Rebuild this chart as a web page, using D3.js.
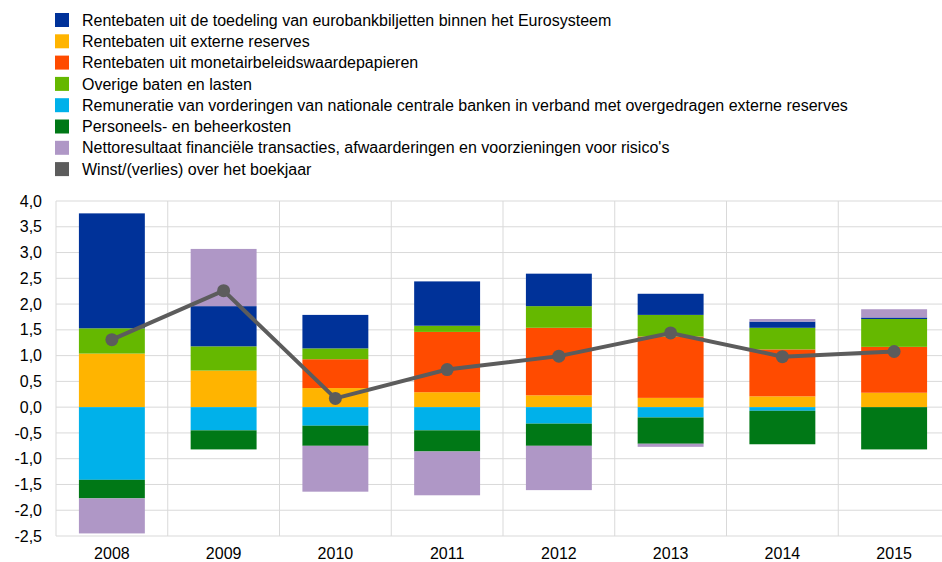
<!DOCTYPE html>
<html>
<head>
<meta charset="utf-8">
<script src="https://cdn.jsdelivr.net/npm/d3@7"></script>
<style>
    body { margin: 0; background: #fff; }
    svg { display: block; font-family: "Liberation Sans", Arial, sans-serif; }
</style>
</head>
<body>
<div id="chart"></div>
<script>
// Data, EUR billion
const years = ['2008', '2009', '2010', '2011', '2012', '2013', '2014', '2015'];
const eurobankbiljetten = [2.23, 0.78, 0.65, 0.86, 0.63, 0.41, 0.12, 0.03];
const externeReserves = [1.04, 0.71, 0.37, 0.29, 0.23, 0.18, 0.21, 0.28];
const monetairPapieren = [0, 0, 0.56, 1.17, 1.31, 1.19, 0.91, 0.89];
const overigeBaten = [0.49, 0.47, 0.21, 0.12, 0.42, 0.42, 0.42, 0.54];
const remuneratie = [-1.41, -0.45, -0.36, -0.45, -0.32, -0.20, -0.07, 0];
const personeelskosten = [-0.36, -0.37, -0.39, -0.41, -0.43, -0.51, -0.65, -0.82];
const nettoresultaat = [-0.68, 1.11, -0.89, -0.85, -0.86, -0.06, 0.05, 0.16];
const winst = [1.31, 2.26, 0.17, 0.73, 0.99, 1.44, 0.98, 1.08];
const yTicks = [-2.5, -2, -1.5, -1, -0.5, 0, 0.5, 1, 1.5, 2, 2.5, 3, 3.5, 4];

// Legend entries in display order
const legendItems = [
    { label: 'Rentebaten uit de toedeling van eurobankbiljetten binnen het Eurosysteem', color: '#003299' },
    { label: 'Rentebaten uit externe reserves', color: '#FFB400' },
    { label: 'Rentebaten uit monetairbeleidswaardepapieren', color: '#FF4B00' },
    { label: 'Overige baten en lasten', color: '#65B800' },
    { label: 'Remuneratie van vorderingen van nationale centrale banken in verband met overgedragen externe reserves', color: '#00B1EA' },
    { label: 'Personeels- en beheerkosten', color: '#007816' },
    { label: "Nettoresultaat financiële transacties, afwaarderingen en voorzieningen voor risico's", color: '#AF97C6' },
    { label: 'Winst/(verlies) over het boekjaar', color: '#5C5C5C' }
];

// Stacking order (bottom-up for positives, top-down for negatives)
const seriesDefs = [
    { key: 'extern', values: externeReserves, color: '#FFB400' },
    { key: 'monetair', values: monetairPapieren, color: '#FF4B00' },
    { key: 'overige', values: overigeBaten, color: '#65B800' },
    { key: 'eurobank', values: eurobankbiljetten, color: '#003299' },
    { key: 'remuneratie', values: remuneratie, color: '#00B1EA' },
    { key: 'personeel', values: personeelskosten, color: '#007816' },
    { key: 'netto', values: nettoresultaat, color: '#AF97C6' }
];

function drawChart() {
    const width = 942, height = 562;
    const plot = { left: 56, right: 950, top: 201, bottom: 536 };

    const svg = d3.select('#chart').append('svg')
        .attr('width', width)
        .attr('height', height)
        .style('overflow', 'hidden');

    const x = d3.scaleBand()
        .domain(years)
        .range([plot.left, plot.right])
        .paddingInner(0.41)
        .paddingOuter(0.205);

    const xGrid = d3.scaleBand().domain(years).range([plot.left, plot.right]);

    const y = d3.scaleLinear()
        .domain([-2.5, 4])
        .range([plot.bottom, plot.top]);

    // gridlines
    svg.append('g')
        .selectAll('line')
        .data(yTicks)
        .join('line')
        .attr('x1', plot.left)
        .attr('x2', plot.right)
        .attr('y1', d => y(d))
        .attr('y2', d => y(d))
        .attr('stroke', '#d9d9d9')
        .attr('stroke-width', 1);

    svg.append('g')
        .selectAll('line')
        .data(years.concat(['end']))
        .join('line')
        .attr('x1', d => d === 'end' ? plot.right : xGrid(d))
        .attr('x2', d => d === 'end' ? plot.right : xGrid(d))
        .attr('y1', plot.top)
        .attr('y2', plot.bottom)
        .attr('stroke', '#d9d9d9')
        .attr('stroke-width', 1);

    // stacked bars
    const table = years.map((yr, i) => {
        const row = { year: yr };
        seriesDefs.forEach(s => { row[s.key] = s.values[i]; });
        return row;
    });

    const stacked = d3.stack()
        .keys(seriesDefs.map(s => s.key))
        .order(d3.stackOrderNone)
        .offset(d3.stackOffsetDiverging)(table);

    svg.append('g')
        .selectAll('g')
        .data(stacked)
        .join('g')
        .attr('fill', (d, i) => seriesDefs[i].color)
        .selectAll('rect')
        .data(d => d)
        .join('rect')
        .attr('x', d => x(d.data.year))
        .attr('width', x.bandwidth())
        .attr('y', d => y(Math.max(d[0], d[1])))
        .attr('height', d => Math.abs(y(d[0]) - y(d[1])));

    // profit line
    const line = d3.line()
        .x((d, i) => x(years[i]) + x.bandwidth() / 2)
        .y(d => y(d));

    svg.append('path')
        .datum(winst)
        .attr('fill', 'none')
        .attr('stroke', '#5C5C5C')
        .attr('stroke-width', 4)
        .attr('d', line);

    svg.append('g')
        .selectAll('circle')
        .data(winst)
        .join('circle')
        .attr('cx', (d, i) => x(years[i]) + x.bandwidth() / 2)
        .attr('cy', d => y(d))
        .attr('r', 6.5)
        .attr('fill', '#5C5C5C');

    // y axis labels
    svg.append('g')
        .selectAll('text')
        .data(yTicks)
        .join('text')
        .attr('x', 42)
        .attr('y', d => y(d))
        .attr('dy', '0.35em')
        .attr('text-anchor', 'end')
        .style('font-size', '16px')
        .attr('fill', '#000')
        .text(d => d3.format('.1f')(d).replace('.', ',').replace('−', '-'));

    // x axis labels
    svg.append('g')
        .selectAll('text')
        .data(years)
        .join('text')
        .attr('x', d => x(d) + x.bandwidth() / 2)
        .attr('y', 553)
        .attr('dy', '0.35em')
        .attr('text-anchor', 'middle')
        .style('font-size', '16px')
        .attr('fill', '#000')
        .text(d => d);

    // legend
    const legend = svg.append('g');
    const rows = legend.selectAll('g')
        .data(legendItems)
        .join('g')
        .attr('transform', (d, i) => `translate(55,${20 + i * 21.3})`);

    rows.append('rect')
        .attr('x', 0)
        .attr('y', -7)
        .attr('width', 14)
        .attr('height', 14)
        .attr('fill', d => d.color);

    rows.append('text')
        .attr('x', 27)
        .attr('y', 0)
        .attr('dy', '0.35em')
        .style('font-size', '16px')
        .attr('fill', '#000')
        .text(d => d.label);
}

drawChart();
</script>
</body>
</html>
